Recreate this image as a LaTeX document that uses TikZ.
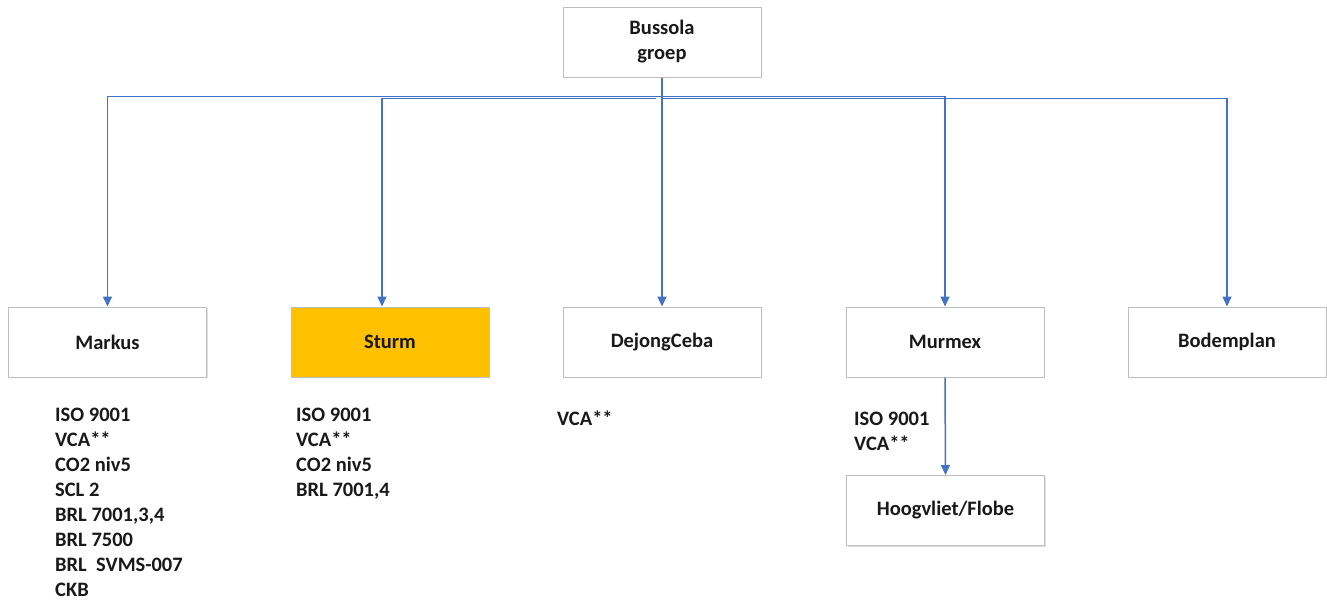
\documentclass[tikz,border=0pt]{standalone}
\usepackage{fontspec}
\setmainfont{Carlito}
\usetikzlibrary{arrows.meta,shadows}
\definecolor{connblue}{HTML}{4472C4}
\definecolor{boxgray}{HTML}{BFBFBF}
\definecolor{sturmgold}{HTML}{FFC000}
\begin{document}
\begin{tikzpicture}[x=1pt,y=-1pt,
  orgbox/.style={draw=boxgray, line width=1pt, fill=white, minimum width=198pt, minimum height=70pt,
    inner sep=0pt, align=center, text=black!90,
    font={\fontsize{20.5}{25}\selectfont\bfseries},
    drop shadow={shadow xshift=1pt, shadow yshift=-1.2pt, fill=black!12, opacity=1}},
  certlist/.style={anchor=north west, inner sep=0pt, align=left, text=black!90,
    font={\fontsize{20.5}{25.1}\selectfont\bfseries}},
  conn/.style={draw=connblue, line width=1.5pt, -{Triangle[length=10pt,width=9pt]}}
]
\useasboundingbox (0,0) rectangle (1327,600);
\fill[white] (0,0) rectangle (1327,600);

\node[orgbox] (B) at (662,42) {Bussola\\groep};
\node[orgbox] (M) at (107.5,342) {Markus};
\node[orgbox, fill=sturmgold] (S) at (390,342) {Sturm};
\node[orgbox] (D) at (662,342) {DejongCeba};
\node[orgbox] (Mu) at (945,342) {Murmex};
\node[orgbox] (Bo) at (1227,342) {Bodemplan};
\node[orgbox] (H) at (945.5,510.5) {Hoogvliet/Flobe};

\node[certlist] (LM) at (55,407.5) {ISO 9001\\VCA**\\CO2 niv5\\SCL 2\\BRL 7001,3,4\\BRL 7500\\BRL\ \ SVMS-007\\CKB};
\node[certlist] (LS) at (296,407.5) {ISO 9001\\VCA**\\CO2 niv5\\BRL 7001,4};
\node[certlist] (LD) at (557,410.5) {VCA**};
\node[certlist] (LMu) at (854,411.5) {ISO 9001\\VCA**};

\draw[conn] (B.south) -- ++(0,19) -| (M.north);
\draw[conn] (B.south) ++(-6,21) -| ([xshift=-8pt]S.north);
\draw[conn] (B.south) -- (D.north);
\draw[conn] (B.south) -- ++(0,19) -| (Mu.north);
\draw[conn] (B.south) ++(0,21) -| (Bo.north);
\draw[conn] (Mu.south) -- (H.north);
\end{tikzpicture}
\end{document}
